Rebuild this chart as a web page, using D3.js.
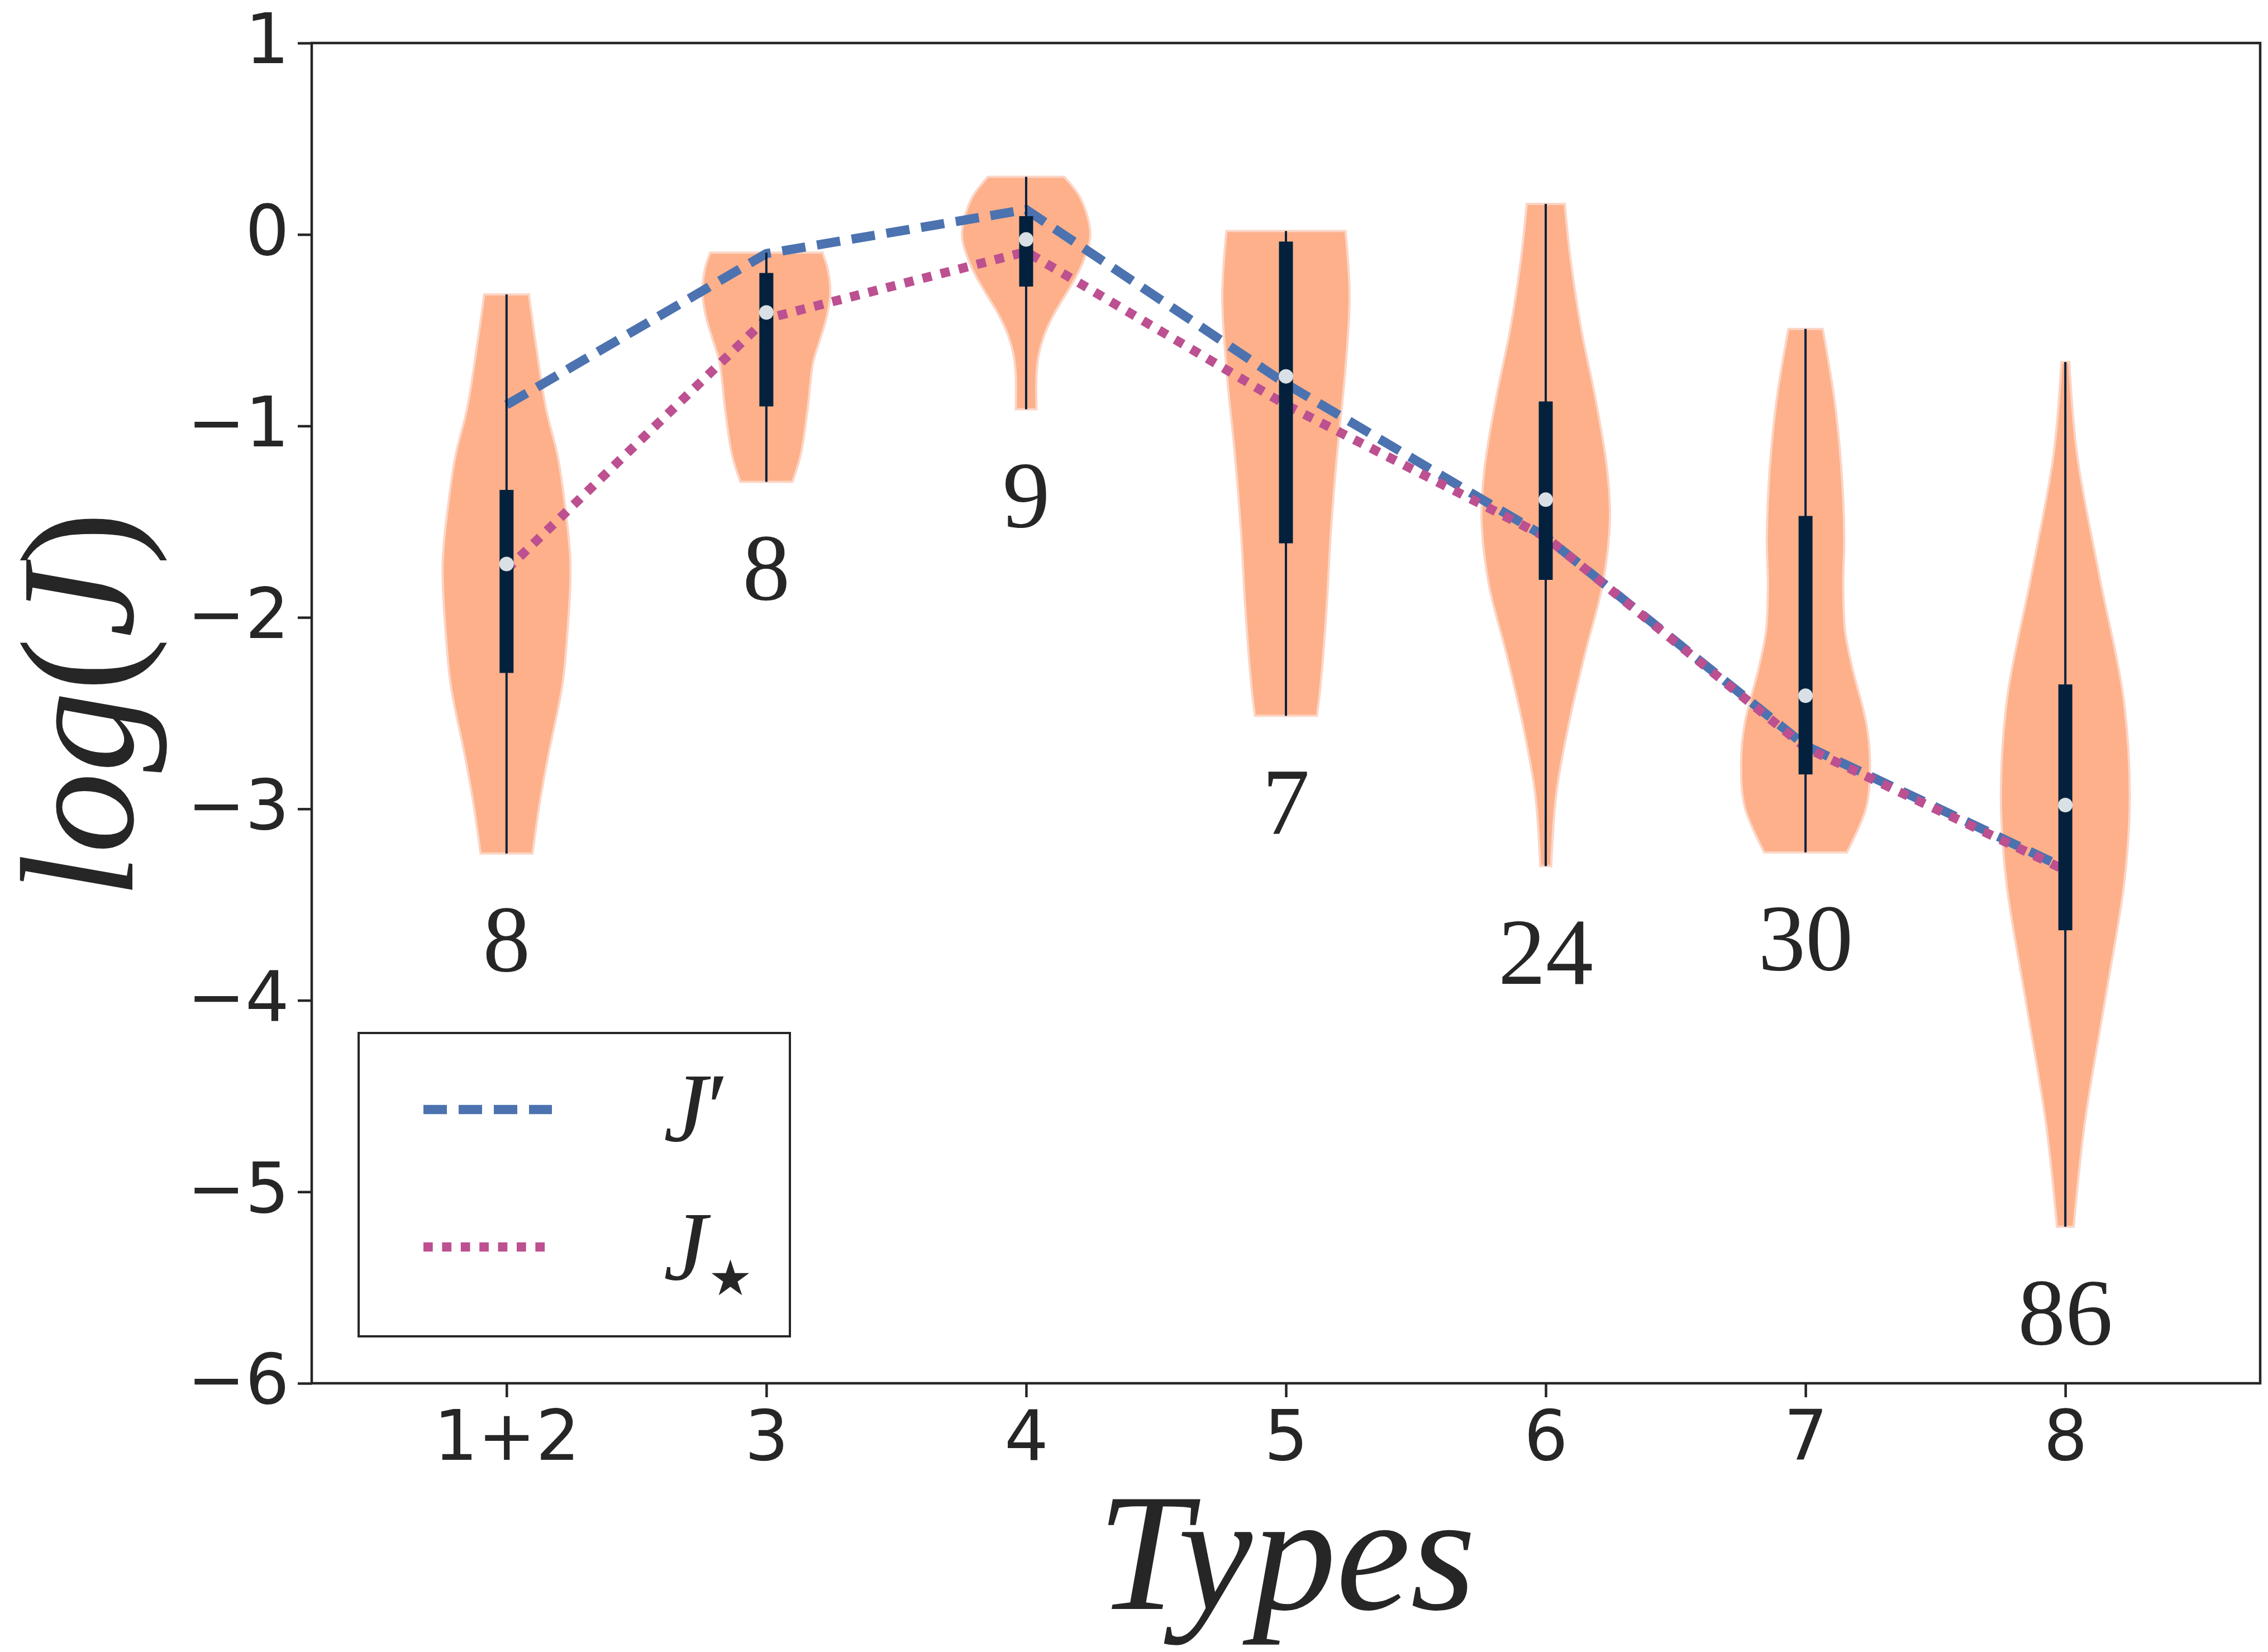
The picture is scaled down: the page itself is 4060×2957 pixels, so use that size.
<!DOCTYPE html>
<html>
<head>
<meta charset="utf-8">
<script src="https://cdn.jsdelivr.net/npm/d3@7"></script>
<style>
body{margin:0;background:#fff}
</style>
</head>
<body>
<svg id="drawing_region"></svg>
<script>
// data
const types = ['1+2', '3', '4', '5', '6', '7', '8']
const counts = [8, 8, 9, 7, 24, 30, 86]
const jPrime = [-0.89, -0.10, 0.13, -0.78, -1.58, -2.67, -3.31]
const jStar = [-1.75, -0.44, -0.09, -0.89, -1.58, -2.68, -3.32]
const q3 = [-1.334, -0.201, 0.096, -0.037, -0.872, -1.470, -2.350]
const medians = [-1.721, -0.407, -0.026, -0.741, -1.385, -2.409, -2.980]
const q1 = [-2.290, -0.898, -0.272, -1.613, -1.804, -2.820, -3.634]
// violin outlines, [value, half width] from max down to min
const shapes = [
    [[-0.313,0.086],[-0.547,0.110],[-0.910,0.152],[-1.152,0.196],[-1.394,0.223],[-1.721,0.246],[-2.120,0.232],[-2.361,0.214],[-2.725,0.160],[-2.967,0.128],[-3.233,0.100]],
    [[-0.095,0.216],[-0.184,0.237],[-0.305,0.246],[-0.426,0.233],[-0.547,0.207],[-0.668,0.180],[-0.910,0.159],[-1.152,0.132],[-1.292,0.100]],
    [[0.301,0.147],[0.188,0.210],[0.004,0.247],[-0.119,0.226],[-0.221,0.192],[-0.426,0.103],[-0.528,0.069],[-0.631,0.048],[-0.733,0.040],[-0.913,0.040]],
    [[0.018,0.229],[-0.324,0.245],[-0.733,0.227],[-1.142,0.197],[-1.552,0.173],[-1.961,0.156],[-2.371,0.132],[-2.514,0.119]],
    [[0.160,0.073],[-0.135,0.096],[-0.498,0.137],[-0.861,0.192],[-1.224,0.236],[-1.490,0.247],[-1.828,0.219],[-2.191,0.151],[-2.554,0.089],[-2.917,0.041],[-3.299,0.021]],
    [[-0.493,0.066],[-0.861,0.111],[-1.224,0.138],[-1.587,0.149],[-1.828,0.145],[-2.070,0.152],[-2.263,0.180],[-2.554,0.234],[-2.748,0.248],[-2.990,0.234],[-3.227,0.159]],
    [[-0.666,0.015],[-1.157,0.046],[-1.789,0.132],[-2.422,0.224],[-2.929,0.248],[-3.372,0.228],[-4.005,0.152],[-4.638,0.075],[-5.182,0.032]]
]
const yTicks = [1, 0, -1, -2, -3, -4, -5, -6]

class ViolinChart{
    constructor(config){
        this.config = config
        this.init()
    }

    init(){
        let self = this
        const c = self.config
        self.svg = d3.select(c.parent)
            .attr('width', c.width)
            .attr('height', c.height)
        self.xscale = d3.scaleLinear().domain([-0.75, 6.75]).range([c.margin.left, c.width - c.margin.right])
        self.yscale = d3.scaleLinear().domain([-6, 1]).range([c.height - c.margin.bottom, c.margin.top])
    }

    render(){
        let self = this
        const c = self.config
        const x = self.xscale, y = self.yscale
        const ink = '#262626'
        const navy = '#03213d'

        // violin bodies
        const area = d3.area()
            .y(d => y(d[0]))
            .curve(d3.curveCatmullRom.alpha(0.5))
        self.svg.append('g').selectAll('path')
            .data(shapes).enter()
            .append('path')
            .attr('d', (s, i) => area.x0(d => x(i - d[1])).x1(d => x(i + d[1]))(s))
            .attr('fill', '#fdb08a')
            .attr('stroke', '#fbd5c5')
            .attr('stroke-width', 4)

        // the two J curves
        const line = d3.line().x((d, i) => x(i)).y(d => y(d))
        self.svg.append('path').datum(jPrime)
            .attr('d', line)
            .attr('fill', 'none')
            .attr('stroke', '#4c72b0')
            .attr('stroke-width', 16.5)
            .attr('stroke-dasharray', '42,21')
        self.svg.append('path').datum(jStar)
            .attr('d', line)
            .attr('fill', 'none')
            .attr('stroke', '#bc5090')
            .attr('stroke-width', 16.5)
            .attr('stroke-dasharray', '16.7,16.7')

        // inner boxes
        const inner = self.svg.append('g')
        inner.selectAll('line')
            .data(shapes).enter()
            .append('line')
            .attr('x1', (s, i) => x(i)).attr('x2', (s, i) => x(i))
            .attr('y1', s => y(s[0][0]))
            .attr('y2', s => y(s[s.length - 1][0]))
            .attr('stroke', navy)
            .attr('stroke-width', 4)
        inner.selectAll('rect')
            .data(types).enter()
            .append('rect')
            .attr('x', (d, i) => x(i) - 12.5)
            .attr('width', 25)
            .attr('y', (d, i) => y(q3[i]))
            .attr('height', (d, i) => y(q1[i]) - y(q3[i]))
            .attr('fill', navy)
        inner.selectAll('circle')
            .data(medians).enter()
            .append('circle')
            .attr('cx', (d, i) => x(i))
            .attr('cy', d => y(d))
            .attr('r', 13)
            .attr('fill', '#d9e1e6')

        // sample counts under each violin
        self.svg.append('g').selectAll('text')
            .data(counts).enter()
            .append('text')
            .attr('x', (d, i) => x(i))
            .attr('y', (d, i) => y(shapes[i][shapes[i].length - 1][0] - 0.615))
            .attr('text-anchor', 'middle')
            .attr('font-family', 'Liberation Serif')
            .attr('font-size', 170)
            .attr('fill', ink)
            .text(d => d)

        // axes
        const yaxis = d3.axisLeft(y).tickValues(yTicks).tickFormat(d3.format('d'))
            .tickSize(25).tickSizeOuter(0).tickPadding(15)
        const gy = self.svg.append('g').attr('transform', `translate(${c.margin.left},0)`).call(yaxis)
        const xaxis = d3.axisBottom(x).tickValues(d3.range(types.length)).tickFormat(i => types[i])
            .tickSize(25).tickSizeOuter(0).tickPadding(24)
        const gx = self.svg.append('g').attr('transform', `translate(0,${c.height - c.margin.bottom})`).call(xaxis)
        for (const g of [gx, gy]){
            g.select('.domain').remove()
            g.selectAll('line').attr('stroke', ink).attr('stroke-width', 4.5)
            g.selectAll('text')
                .attr('font-family', 'DejaVu Sans')
                .attr('font-size', 124)
                .attr('fill', ink)
        }
        gy.selectAll('text').attr('dy', '0.29em')

        self.svg.append('rect')
            .attr('x', c.margin.left).attr('y', c.margin.top)
            .attr('width', c.width - c.margin.left - c.margin.right)
            .attr('height', c.height - c.margin.top - c.margin.bottom)
            .attr('fill', 'none')
            .attr('stroke', ink)
            .attr('stroke-width', 4.5)

        // axis labels
        self.svg.append('text')
            .attr('x', 2303).attr('y', 2880)
            .attr('text-anchor', 'middle')
            .attr('font-family', 'Liberation Serif')
            .attr('font-style', 'italic')
            .attr('font-size', 300)
            .attr('fill', ink)
            .text('Types')
        const yl = self.svg.append('text')
            .attr('transform', 'translate(237,1262) rotate(-90)')
            .attr('text-anchor', 'middle')
            .attr('font-family', 'Liberation Serif')
            .attr('font-size', 290)
            .attr('fill', ink)
        yl.append('tspan').attr('font-style', 'italic').text('log')
        yl.append('tspan').text('(')
        yl.append('tspan').attr('font-style', 'italic').text('J')
        yl.append('tspan').text(')')

        // legend
        const lg = self.svg.append('g')
        lg.append('rect')
            .attr('x', 642).attr('y', 1849).attr('width', 772).attr('height', 543)
            .attr('fill', '#fff').attr('stroke', ink).attr('stroke-width', 4)
        lg.append('line').attr('x1', 758).attr('x2', 988).attr('y1', 1986).attr('y2', 1986)
            .attr('stroke', '#4c72b0').attr('stroke-width', 16.5).attr('stroke-dasharray', '42,21')
        lg.append('line').attr('x1', 758).attr('x2', 988).attr('y1', 2232).attr('y2', 2232)
            .attr('stroke', '#bc5090').attr('stroke-width', 16.5).attr('stroke-dasharray', '16.7,16.7')
        const t1 = lg.append('text').attr('x', 1188).attr('y', 2042)
            .attr('font-family', 'Liberation Serif').attr('font-size', 175).attr('fill', ink)
        t1.append('tspan').attr('font-style', 'italic').text('J')
        t1.append('tspan').text('\u2032')
        lg.append('text').attr('x', 1188).attr('y', 2290)
            .attr('font-family', 'Liberation Serif').attr('font-style', 'italic')
            .attr('font-size', 175).attr('fill', ink).text('J')
        lg.append('text').attr('x', 1268).attr('y', 2318)
            .attr('font-family', 'DejaVu Sans').attr('font-size', 88).attr('fill', ink)
            .text('\u2605')
    }
}

const config = {
    parent: '#drawing_region',
    width: 4060,
    height: 2957,
    margin: {top: 77, right: 14, bottom: 481, left: 558}
}
const chart = new ViolinChart(config)
chart.render()
</script>
</body>
</html>
